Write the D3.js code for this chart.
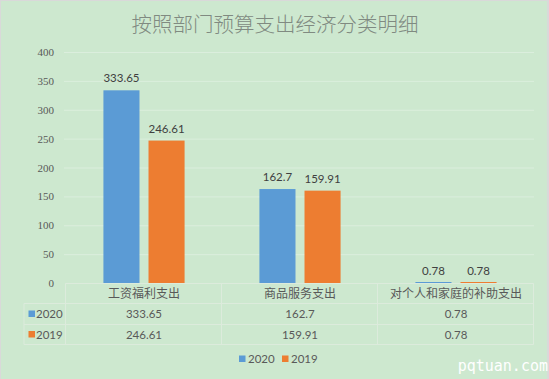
<!DOCTYPE html>
<html><head><meta charset="utf-8">
<script src="https://cdn.jsdelivr.net/npm/d3@7"></script>
<style>
html,body{margin:0;padding:0;background:#fff;}
svg{display:block;}
</style></head>
<body>
<script>
const title = "按照部门预算支出经济分类明细";
const categories = ["工资福利支出", "商品服务支出", "对个人和家庭的补助支出"];
const seriesNames = ["2020", "2019"];
const values2020 = [333.65, 162.7, 0.78];
const values2019 = [246.61, 159.91, 0.78];
const labels2020 = ["333.65", "162.7", "0.78"];
const labels2019 = ["246.61", "159.91", "0.78"];
const yTicks = [0, 50, 100, 150, 200, 250, 300, 350, 400];
const colors = ["#5b9bd5", "#ed7d31"];

const W = 549, H = 379;
const svg = d3.select("body").append("svg").attr("width", W).attr("height", H);
svg.append("rect").attr("width", W).attr("height", H).attr("fill", "#d9d9d9");
svg.append("rect").attr("x", 1).attr("y", 1).attr("width", W - 3).attr("height", H - 1).attr("fill", "#cde8cf");

const sans = "Lato, 'Noto Sans CJK SC', sans-serif";
const cjk = "'Noto Sans CJK SC', sans-serif";

svg.append("text").attr("x", 275).attr("y", 32).attr("text-anchor", "middle")
  .attr("font-family", cjk).attr("font-size", 20.5).attr("font-weight", 300).attr("fill", "#808a81").text(title);

const x = d3.scaleBand().domain(categories).range([66, 534]);
const y = d3.scaleLinear().domain([0, 400]).range([283, 52]);
const sub = d3.scaleBand().domain(seriesNames).range([0, x.bandwidth()]).paddingInner(0.2).paddingOuter(0.83);

// grid
svg.append("g").selectAll("line").data(yTicks.filter(d => d > 0)).join("line")
  .attr("x1", 64).attr("x2", 534).attr("y1", d => y(d) + 0.5).attr("y2", d => y(d) + 0.5)
  .attr("stroke", "#dbeedd").attr("stroke-width", 1);

// y axis
const yAxis = d3.axisLeft(y).tickValues(yTicks).tickSize(0).tickPadding(0);
const ga = svg.append("g").attr("transform", "translate(54,0)").call(yAxis);
ga.select(".domain").remove();
ga.selectAll("text").attr("font-family", "'Liberation Serif', serif").attr("font-size", 11).attr("fill", "#595959");

// bars
const series = [values2020, values2019];
const labels = [labels2020, labels2019];
series.forEach((vals, si) => {
  const g = svg.append("g");
  g.selectAll("rect").data(vals).join("rect")
    .attr("x", (d, i) => x(categories[i]) + sub(seriesNames[si]))
    .attr("y", d => Math.min(y(d), 282))
    .attr("width", sub.bandwidth())
    .attr("height", d => Math.max(283 - y(d), 1))
    .attr("fill", colors[si]);
  g.selectAll("text").data(vals).join("text")
    .attr("x", (d, i) => x(categories[i]) + sub(seriesNames[si]) + sub.bandwidth() / 2)
    .attr("y", d => y(d) - 8)
    .attr("text-anchor", "middle").attr("font-family", sans).attr("font-size", 11.5)
    .attr("fill", "#404040").text((d, i) => labels[si][i]);
});

// data table
const tbl = svg.append("g");
const lineC = "#dcebdc";
const rowsY = [283.5, 303.5, 324.5, 344.5];
const left = 24, colL = 65.5, right = 533.5;
tbl.append("line").attr("x1", colL).attr("x2", right).attr("y1", rowsY[0]).attr("y2", rowsY[0]).attr("stroke", lineC);
[1, 2, 3].forEach(r => tbl.append("line").attr("x1", left).attr("x2", right).attr("y1", rowsY[r]).attr("y2", rowsY[r]).attr("stroke", lineC));
tbl.append("line").attr("x1", left).attr("x2", left).attr("y1", rowsY[1]).attr("y2", rowsY[3]).attr("stroke", lineC);
const colEdges = [colL].concat(categories.map(c => x(c) + x.bandwidth() - 0.5));
colEdges.forEach(cx => tbl.append("line").attr("x1", cx).attr("x2", cx).attr("y1", rowsY[0]).attr("y2", rowsY[3]).attr("stroke", lineC));

tbl.selectAll("text.cat").data(categories).join("text").attr("class", "cat")
  .attr("x", d => x(d) + x.bandwidth() / 2).attr("y", 298)
  .attr("text-anchor", "middle").attr("font-family", cjk).attr("font-size", 12)
  .attr("fill", "#595959").text(d => d);

series.forEach((vals, si) => {
  const ty = [318, 338.5][si];
  tbl.append("rect").attr("x", 28.5).attr("y", ty - 7.5).attr("width", 6.5).attr("height", 6.5).attr("fill", colors[si]);
  tbl.append("text").attr("x", 36).attr("y", ty).attr("font-family", sans).attr("font-size", 11.5)
    .attr("fill", "#595959").text(seriesNames[si]);
  tbl.selectAll("text.v" + si).data(vals).join("text").attr("class", "v" + si)
    .attr("x", (d, i) => x(categories[i]) + x.bandwidth() / 2).attr("y", ty)
    .attr("text-anchor", "middle").attr("font-family", sans).attr("font-size", 11.5)
    .attr("fill", "#595959").text((d, i) => labels[si][i]);
});

// legend
const lg = svg.append("g");
const legX = [239, 282];
seriesNames.forEach((n, i) => {
  lg.append("rect").attr("x", legX[i]).attr("y", 355.5).attr("width", 6.5).attr("height", 6.5).attr("fill", colors[i]);
  lg.append("text").attr("x", legX[i] + 9).attr("y", 362.5).attr("font-family", sans).attr("font-size", 11.5)
    .attr("fill", "#595959").text(n);
});

// watermark
svg.append("text").attr("x", 548).attr("y", 371).attr("text-anchor", "end")
  .attr("font-family", "'DejaVu Sans Mono', monospace").attr("font-size", 15)
  .attr("fill", "#ffffff").text("pqtuan.com");
</script>
</body></html>
